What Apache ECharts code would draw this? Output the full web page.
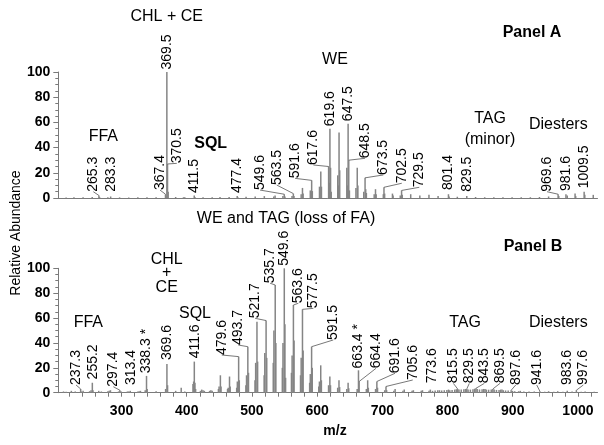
<!DOCTYPE html>
<html><head><meta charset="utf-8">
<script src="https://cdn.jsdelivr.net/npm/echarts@6/dist/echarts.min.js"></script>
<style>html,body{margin:0;padding:0;background:#fff}#c{width:604px;height:445px}</style>
</head><body><div id="c"></div>
<script>
// ---- data: Panel A spectrum [m/z, relative abundance]
const peaksA = [[215,0.4],[227,0.5],[241,0.6],[255,0.8],[265.3,2],[266.3,0.7],[279,0.5],[283.3,1.2],[297,0.5],[311,0.4],[325,0.5],[339,0.5],[353,0.6],
[367.4,3],[368.4,1.5],[369.5,100],[370.5,27],[371.5,5],[383,0.8],[395,0.6],[397,0.5],[411.5,2],[412.5,0.8],[425,0.6],[439,0.5],[451,0.7],[465,0.8],
[477.4,1.5],[478.4,0.6],[491,1],[505,1.2],[519,1.5],[533.5,1.2],[535.5,2],[547.5,1.5],[549.6,3],[550.6,1.2],[561.5,1.5],[563.5,3.5],[564.5,1.5],
[575.5,3],[577.5,8],[578.5,3.5],[589.5,6],[591.6,14],[592.6,5.5],[603.6,9],[605.6,21],[606.6,9],[617.6,25],[618.6,12],[619.6,55],[620.6,24],[621.6,5],
[631.6,18],[632.6,10],[633.6,52],[634.6,22],[645.5,24],[646.5,10],[647.5,59],[648.5,30],[649.5,6],[659.5,8],[661.5,24],[662.5,10],[671.5,5],[673.5,16],
[674.5,7],[675.5,4],[687.5,3],[689.5,7],[690.5,3],[701.5,3],[702.5,8.5],[703.5,3.5],[715.5,3.5],[716.5,2],[727.5,2],[729.5,6],[730.5,2.5],[743.5,3],
[757.5,2],[771.5,2.5],[785.5,1.5],[801.4,3],[802.4,1.2],[815,1],[829.5,1.5],[843,0.8],[857,0.6],[871,0.6],[885,0.5],[899,0.5],[913,0.5],[927,0.6],
[941,0.8],[955,1.2],[969.6,3],[970.6,1.5],[981.6,3],[983.6,2],[995.6,3.5],[996.6,1.5],[1009.5,5],[1010.5,2.5],[1023.5,2.5]];

// ---- data: Panel B spectrum [m/z, relative abundance]
const peaksB = [[211,1],[215,0.8],[223,1.5],[229,1],[237.3,3],[238.3,1],[241,1.5],[251,1.2],[253.2,2],[255.2,8],[256.2,2],[265,1.5],[269,1],[279,1.2],
[281,1.5],[283,2],[295.4,1],[297.4,2],[299,1.2],[309,1],[311,1],[313.4,1.5],[325,1],[327,1.2],[329,1.5],[336.3,2],[338.3,13.5],[339.3,3],[353,1.2],
[367.6,3],[369.6,23],[370.6,6],[383,1.5],[391.5,4],[397,1],[409.6,7],[410.6,9],[411.6,25],[412.6,8],[413.6,3],[421,1.5],[423,2.5],[425,2],[427,1.5],
[435,1.5],[437,2],[439,1.5],[448.6,3],[449.6,5],[451.6,14],[452.6,5],[462.6,3],[463.6,4],[465.6,13],[466.6,5],[476.6,4],[477.6,9],[479.6,29],[480.6,10],
[490.7,6],[491.7,14],[493.7,37],[494.7,16],[504.7,10],[505.7,24],[507.7,57],[508.7,25],[518.7,14],[519.7,32],[521.7,58],[522.7,28],[532.7,24],[533.7,50],
[535.7,86.6],[536.7,40],[546.6,20],[547.6,40],[549.6,100],[550.6,55],[551.6,12],[560.6,16],[561.6,30],[563.6,70.5],[564.6,42],[574.5,14],[575.5,28],
[577.5,67],[578.5,34],[588.5,8],[589.5,15],[591.5,37],[592.5,20],[602.5,5],[603.5,9],[605.5,22],[606.5,10],[617.5,6],[619.5,13],[620.5,6],[631.5,4],
[633.5,10],[634.5,4.5],[645.5,3],[647.5,8],[648.5,3.5],[661.4,3],[663.4,18],[664.4,9],[675.5,3],[677.5,10],[678.5,4],[689.6,3],[691.6,9],[692.6,4],
[703.6,2],[705.6,5],[706.6,2],[717.6,1.5],[719.6,3],[731.6,1.5],[733.6,2.5],[745.6,1.5],[747.6,2],[759.6,1.5],[761.6,2],[771.6,1.5],[773.6,2.5],[777,1.5],
[781,1.8],[785,2],[787.6,2],[791,1.8],[795,2],[799,2.2],[801.5,2.5],[803.5,2],[807,2.2],[811,2.5],[813.5,2.8],[815.5,3],[817.5,2.5],[821,2.5],[825,2.8],
[827.5,3],[829.5,3],[831.5,2.5],[835,2.5],[839,2.8],[841.5,3.2],[843.5,3.5],[845.5,3],[849,2.6],[853,2.8],[855.5,3],[857.5,3],[859.5,2.5],[863,2.4],
[867,2.6],[869.5,3],[871.5,2.5],[875,2.2],[879,2.2],[881.5,2.5],[883.5,2.5],[885.5,2],[889,1.8],[893,1.8],[897.6,2],[899.6,1.5],[903,1.2],[909,1.2],
[911.6,1.5],[917,1],[925,1],[933,1],[941.6,1.2],[949,0.8],[955,1.2],[963,0.8],[969,1.2],[977,0.8],[983.6,1.5],[991,1],[997.6,2],[1005,0.8],[1011,1],[1025,0.8]];

// ---- peak label texts
const labelsA = ['265.3','283.3','367.4','369.5','370.5','411.5','477.4','549.6','563.5','591.6','617.6','619.6','647.5','648.5','673.5','702.5','729.5','801.4','829.5','969.6','981.6','1009.5'];
const labelsB = ['237.3','255.2','297.4','313.4','338.3 *','369.6','411.6','479.6','493.7','521.7','535.7','549.6','563.6','577.5','591.5','663.4 *','664.4','691.6','705.6','773.6','815.5','829.5','843.5','869.5','897.6','941.6','983.6','997.6'];

// ---- axis tick values
const xTickVals = [220,240,260,280,300,320,340,360,380,400,420,440,460,480,500,520,540,560,580,600,620,640,660,680,700,720,740,760,780,800,820,840,860,880,900,920,940,960,980,1000,1020];
const xLabelVals = [300,400,500,600,700,800,900,1000];

// ---- layout: where each peak label sits [m/z, abundance] (label base)
const spotA = [[256.7,5],[283.3,5],[359,6.3],[369.5,102],[384.7,27.5],[411.5,4],[477.4,4],[512.4,6.3],[538,10.3],[566.1,15.6],[594.2,26.2],[619.6,57],[647.5,61],[673.5,31.5],[701.5,18.3],[729.8,11.7],[756.7,8.5],[801.4,6.3],[829.5,5],[952.6,5],[981.6,5.5],[1009.5,7.7]];
const spotB = [[230.2,6.2],[257,10.7],[287.4,4.8],[314.5,6.2],[338.3,15.6],[370.5,26.3],[412.5,27.6],[453.7,30.3],[479.1,38.3],[504.8,59.8],[527.8,88],[550,102],[571.2,71.9],[594.2,67.8],[624.8,42.4],[663.3,19.5],[690.3,19.6],[719.5,15.6],[746.6,10.2],[775.8,7.5],[808.9,7.5],[833.4,7.5],[856.4,7.5],[880.5,7.5],[904.6,6.2],[936.8,6.2],[982.8,6.2],[1008.3,6.2]];

const FONT = '"Liberation Sans", Arial, Helvetica, sans-serif';
const AX = '#7a7a7a';
const chart = echarts.init(document.getElementById('c'), null, {renderer: 'canvas'});

function yAxis(g) {
  return {type: 'value', gridIndex: g, min: 0, max: 100, interval: 20,
    axisLine: {show: true, lineStyle: {color: AX, width: 1}},
    axisTick: {show: true, length: 5, lineStyle: {color: AX}},
    minorTick: {show: true, splitNumber: 4, length: 3, lineStyle: {color: AX}},
    splitLine: {show: false}, minorSplitLine: {show: false},
    axisLabel: {margin: 8, color: '#000', fontSize: 14, fontWeight: 'bold', fontFamily: FONT}};
}
function xAxis(g, withTicks) {
  return {type: 'value', gridIndex: g, min: 203, max: 1030,
    axisLine: {show: true, onZero: false, lineStyle: {color: AX, width: 1}},
    axisTick: {show: withTicks, length: 4, customValues: xTickVals, lineStyle: {color: AX}},
    axisLabel: {show: withTicks, customValues: xLabelVals, margin: 11, color: '#000', fontSize: 14, fontWeight: 'bold', fontFamily: FONT,
      formatter: function (v) { return String(v); }},
    splitLine: {show: false}};
}
function barSeries(i, peaks) {
  return {type: 'bar', xAxisIndex: i, yAxisIndex: i, data: peaks, barWidth: 1.5, silent: true,
    itemStyle: {color: '#858585'}};
}
function labelSeries(i, peaks, texts, spots) {
  const data = texts.map((t, k) => {
    const mz = parseFloat(t);
    const pk = peaks.find(p => p[0] === mz);
    return [spots[k][0], spots[k][1], mz, pk ? pk[1] : 0];
  });
  return {type: 'custom', xAxisIndex: i, yAxisIndex: i, data: data, silent: true, clip: false, z: 5,
    renderItem: function (params, api) {
      const k = params.dataIndex;
      const lx = api.value(0), lb = api.value(1), mz = api.value(2), h = api.value(3);
      const p1 = api.coord([lx, lb]), p2 = api.coord([mz, h]);
      const ch = [];
      if (Math.abs(lx - mz) > 2.5) {
        ch.push({type: 'line', shape: {x1: p1[0], y1: p1[1], x2: p2[0], y2: p2[1]},
          style: {stroke: '#555', lineWidth: 0.8}});
      }
      ch.push({type: 'text', x: p1[0], y: p1[1], rotation: Math.PI / 2,
        style: {text: texts[k], font: '14px ' + FONT, fill: '#000', align: 'left', verticalAlign: 'middle',
          textAlign: 'left', textVerticalAlign: 'middle'}});
      return {type: 'group', children: ch};
    }};
}
function txt(s, x, y, size, bold, rot) {
  return {type: 'text', x: x, y: y, rotation: rot || 0, silent: true,
    style: {text: s, font: (bold ? 'bold ' : '') + size + 'px ' + FONT, fill: '#000',
      align: 'center', verticalAlign: 'middle', textAlign: 'center', textVerticalAlign: 'middle'}};
}

chart.setOption({
  animation: false,
  backgroundColor: '#fff',
  grid: [
    {left: 58.3, right: 6.5, top: 72, height: 126},
    {left: 58.3, right: 6.5, top: 268.3, height: 124.4}
  ],
  xAxis: [xAxis(0, false), xAxis(1, true)],
  yAxis: [yAxis(0), yAxis(1)],
  series: [barSeries(0, peaksA), barSeries(1, peaksB),
    labelSeries(0, peaksA, labelsA, spotA), labelSeries(1, peaksB, labelsB, spotB)],
  graphic: [
    txt('CHL + CE', 166.7, 17, 16, false),
    txt('Panel A', 532, 33, 16, true),
    txt('WE', 335, 60, 16, false),
    txt('FFA', 103.3, 137, 16, false),
    txt('SQL', 210.7, 143.5, 16, true),
    txt('TAG', 490, 118.5, 16, false),
    txt('(minor)', 490, 140, 16, false),
    txt('Diesters', 558.3, 125, 16, false),
    txt('WE and TAG (loss of FA)', 286, 218.5, 16, false),
    txt('Panel B', 533, 247, 16, true),
    txt('CHL', 166.7, 260, 16, false),
    txt('+', 166.7, 273, 16, false),
    txt('CE', 166.7, 287.5, 16, false),
    txt('SQL', 195, 313.5, 16, false),
    txt('FFA', 88.3, 323, 16, false),
    txt('TAG', 465, 323, 16, false),
    txt('Diesters', 558.3, 323, 16, false),
    txt('m/z', 335, 431, 14, true),
    txt('Relative Abundance', 16, 233, 14, false, Math.PI / 2)
  ]
});
</script>
</body></html>
